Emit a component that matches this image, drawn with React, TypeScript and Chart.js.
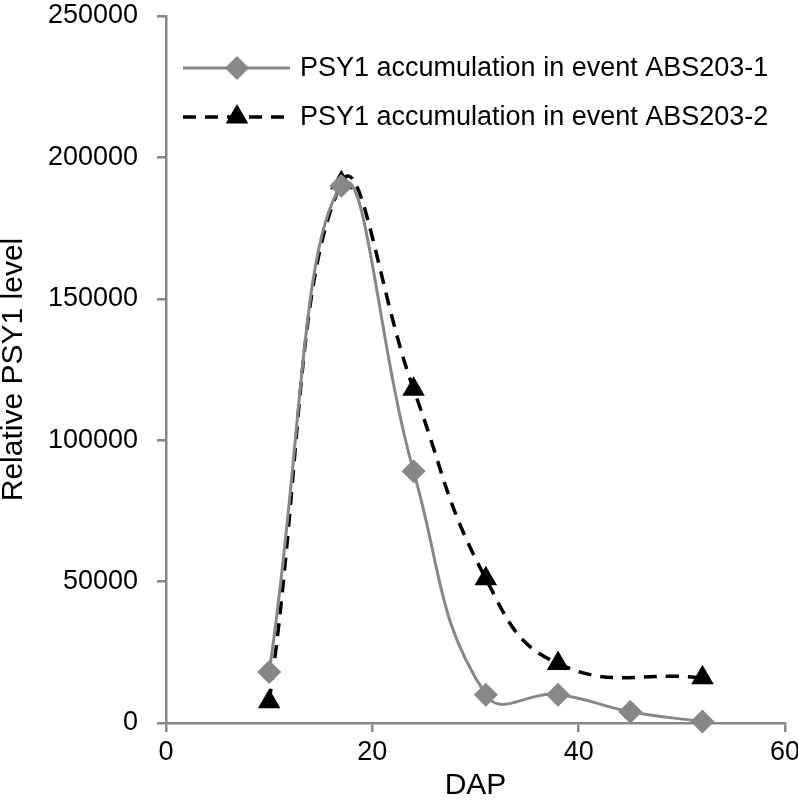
import React, { useEffect, useRef } from "react";
import { Chart, registerables } from "chart.js";

Chart.register(...registerables);

const dap1 = [10, 17, 24, 31, 38, 45, 52];
const level1 = [18000, 190000, 89000, 10000, 10000, 4000, 500];
const dap2 = [10, 17, 24, 31, 38, 52];
const level2 = [7500, 191000, 118000, 51000, 21000, 16000];
const label1 = "PSY1 accumulation in event ABS203-1";
const label2 = "PSY1 accumulation in event ABS203-2";
const xTicks = [0, 20, 40, 60];
const yTicks = [0, 50000, 100000, 150000, 200000, 250000];

const GRAY = "#878787";
const FONT = "'Liberation Sans', Arial, sans-serif";

const legendPlugin = {
  id: "customLegend",
  afterDraw(chart: any) {
    const ctx = chart.ctx;
    const rows = [68, 117];
    const x0 = 183;
    const x1 = 290;
    const xm = 237;
    chart.data.datasets.forEach((ds: any, i: number) => {
      const y = rows[i];
      ctx.save();
      ctx.strokeStyle = ds.borderColor;
      ctx.lineWidth = ds.borderWidth;
      ctx.setLineDash(ds.borderDash || []);
      ctx.beginPath();
      ctx.moveTo(x0, y);
      ctx.lineTo(x1, y);
      ctx.stroke();
      ctx.setLineDash([]);
      ctx.fillStyle = ds.pointBackgroundColor;
      const r = ds.pointRadius;
      ctx.beginPath();
      if (ds.pointStyle === "rectRot") {
        ctx.moveTo(xm - r, y);
        ctx.lineTo(xm, y - r);
        ctx.lineTo(xm + r, y);
        ctx.lineTo(xm, y + r);
      } else {
        const h = r * 1.5;
        const w = r * Math.sqrt(3) / 2;
        ctx.moveTo(xm, y - r);
        ctx.lineTo(xm + w, y + h - r);
        ctx.lineTo(xm - w, y + h - r);
      }
      ctx.closePath();
      ctx.fill();
      ctx.fillStyle = "#000";
      ctx.font = `27px ${FONT}`;
      ctx.textBaseline = "middle";
      ctx.textAlign = "left";
      ctx.fillText(ds.label, 300, y + 1);
      ctx.restore();
    });
  },
};

export default function App() {
  const ref = useRef<HTMLCanvasElement | null>(null);
  useEffect(() => {
    document.body.style.margin = "0";
    const canvas = ref.current!;
    const chart = new Chart(canvas, {
      type: "scatter",
      data: {
        datasets: [
          {
            label: label1,
            data: dap1.map((x, i) => ({ x, y: level1[i] })),
            showLine: true,
            borderColor: GRAY,
            borderWidth: 3,
            tension: 0.45,
            pointStyle: "rectRot",
            pointRadius: 12,
            pointBackgroundColor: GRAY,
            pointBorderWidth: 0,
            pointBorderColor: GRAY,
            clip: false,
          } as any,
          {
            label: label2,
            data: dap2.map((x, i) => ({ x, y: level2[i] })),
            showLine: true,
            borderColor: "#000",
            borderWidth: 3.5,
            borderDash: [13, 9],
            tension: 0.45,
            pointStyle: "triangle",
            pointRadius: 13,
            pointBackgroundColor: "#000",
            pointBorderWidth: 0,
            pointBorderColor: "#000",
            clip: false,
          } as any,
        ],
      },
      options: {
        responsive: false,
        animation: false,
        layout: { padding: { left: 0, top: 16, right: 13, bottom: 0 } },
        plugins: {
          legend: { display: false },
          tooltip: { enabled: false },
        },
        elements: { line: { capBezierPoints: false } },
        scales: {
          x: {
            type: "linear",
            min: 0,
            max: 60,
            afterBuildTicks: (s: any) => {
              s.ticks = xTicks.map((v) => ({ value: v }));
            },
            afterFit: (s: any) => {
              s.height = 82;
              s.paddingLeft = 0;
              s.paddingRight = 0;
            },
            ticks: {
              autoSkip: false,
              maxRotation: 0,
              color: "#000",
              padding: 4,
              font: { family: FONT, size: 27 },
            },
            grid: {
              drawOnChartArea: false,
              drawTicks: true,
              tickLength: 9,
              color: GRAY,
              lineWidth: 2.5,
            },
            border: { color: GRAY, width: 2.5 },
            title: {
              display: true,
              text: "DAP",
              color: "#000",
              font: { family: FONT, size: 30, lineHeight: 1 },
              padding: { top: 0, bottom: 4 },
            },
          },
          y: {
            type: "linear",
            min: 0,
            max: 250000,
            afterBuildTicks: (s: any) => {
              s.ticks = yTicks.map((v) => ({ value: v }));
            },
            afterFit: (s: any) => {
              s.width = 166;
              s.paddingTop = 0;
              s.paddingBottom = 0;
            },
            ticks: {
              color: "#000",
              padding: 19,
              font: { family: FONT, size: 27 },
              callback: (v: any) => String(v),
            },
            grid: {
              drawOnChartArea: false,
              drawTicks: true,
              tickLength: 9,
              color: GRAY,
              lineWidth: 2.5,
            },
            border: { color: GRAY, width: 2.5 },
            title: {
              display: true,
              text: "Relative PSY1 level",
              color: "#000",
              font: { family: FONT, size: 30, lineHeight: 0.9 },
              padding: { top: 0, bottom: 0 },
            },
          },
        },
      },
      plugins: [legendPlugin],
    });
    return () => chart.destroy();
  }, []);
  return (
    <div style={{ width: 798, height: 805 }}>
      <canvas ref={ref} width={798} height={805} />
    </div>
  );
}
